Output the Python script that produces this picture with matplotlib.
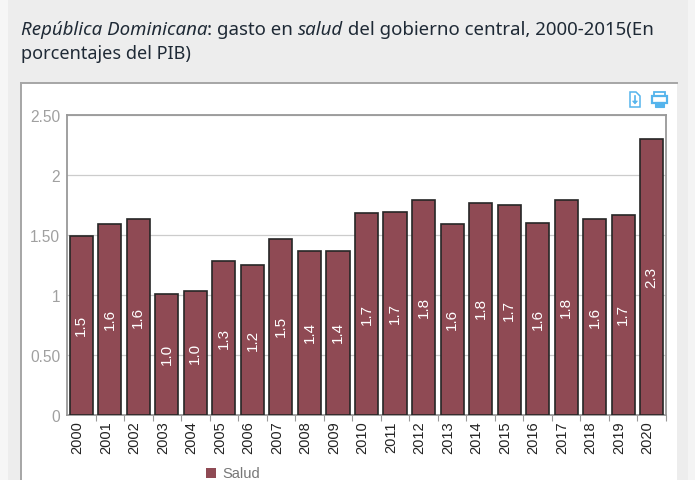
import matplotlib
matplotlib.use("Agg")
import matplotlib.pyplot as plt
from matplotlib.patches import Rectangle, Polygon
from matplotlib.transforms import ScaledTranslation

years = [str(y) for y in range(2000, 2021)]
values = [1.49, 1.59, 1.63, 1.01, 1.03, 1.28, 1.25, 1.47, 1.37, 1.37, 1.68,
          1.69, 1.79, 1.59, 1.77, 1.75, 1.60, 1.79, 1.63, 1.67, 2.30]
labels = ["1.5", "1.6", "1.6", "1.0", "1.0", "1.3", "1.2", "1.5", "1.4", "1.4", "1.7",
          "1.7", "1.8", "1.6", "1.8", "1.7", "1.6", "1.8", "1.6", "1.7", "2.3"]
y_ticks = [0, 0.5, 1, 1.5, 2, 2.5]
y_ticklabels = ["0", "0.50", "1", "1.50", "2", "2.50"]

W, H = 695, 481
bg = "#ededed"
bar_color = "#8f4a54"
grey = "#999999"
icon = "#55b4ec"

plt.rcParams["font.family"] = ["Liberation Sans", "DejaVu Sans"]

fig = plt.figure(figsize=(W / 100, H / 100), dpi=100, facecolor=bg)


def px(x, y):
    # pixel position from the top left to figure fraction
    return x / W, 1 - y / H


# page strips at the sides, white chart panel
fig.add_artist(Rectangle((0, 0), 8 / W, 1, transform=fig.transFigure, color="#f6f6f6", lw=0, zorder=-3))
fig.add_artist(Rectangle((688 / W, 0), 7 / W, 1, transform=fig.transFigure, color="#f4f4f4", lw=0, zorder=-3))
fig.add_artist(Rectangle((21 / W, 0), 656 / W, 1 - 84 / H, transform=fig.transFigure,
                         facecolor="white", edgecolor="none", zorder=-2))
fig.add_artist(plt.Line2D([21 / W, 21 / W], [0, 1 - 84 / H], color="#a6a6a6", lw=1.4, zorder=-1))
fig.add_artist(plt.Line2D([21 / W, 677 / W], [1 - 84 / H, 1 - 84 / H], color="#a6a6a6", lw=1.4, zorder=-1))

ax = fig.add_axes([67 / W, 1 - 416 / H, 599 / W, 300 / H], facecolor="white")
x = range(len(years))
bars = ax.bar(x, values, width=0.81, color=bar_color, edgecolor="#262626", linewidth=1.2, zorder=3)
ax.set_xlim(-0.5, 20.5)
ax.set_ylim(0, 2.5)
ax.set_yticks(y_ticks)
ax.set_yticklabels(y_ticklabels, color="#a0a0a0", fontsize=11.2)
ax.set_xticks([i - 0.5 for i in range(1, 22)], minor=False)
ax.set_xticklabels([])
ax.set_xticks(list(x), minor=True)
ax.set_xticklabels(years, minor=True, rotation=90, fontsize=10.5, color="#222222")
ax.tick_params(axis="x", which="minor", length=0, pad=4)
ax.tick_params(axis="x", which="major", length=4, color=grey)
ax.tick_params(axis="y", length=0, pad=5)
ax.grid(axis="y", color="#cccccc", lw=0.9, zorder=0)
for s in ax.spines.values():
    s.set_color(grey)
    s.set_linewidth(1.3)

# year labels sit a little left of the bar centres
shift = ScaledTranslation(-4 / 100, 0, fig.dpi_scale_trans)
for lab in ax.get_xticklabels(minor=True):
    lab.set_transform(lab.get_transform() + shift)

for i, (v, lab) in enumerate(zip(values, labels)):
    ax.annotate(lab, (i, v / 2), xytext=(0, 0.7), textcoords="offset points",
                rotation=90, ha="center", va="center", color="white", fontsize=11, zorder=4)

# legend
fig.add_artist(Rectangle(px(206, 479), 10 / W, 10 / H, transform=fig.transFigure,
                         facecolor=bar_color, edgecolor="none"))
fig.text(222 / W, 1 - 474 / H, "Salud", color="#777777", fontsize=10.5, va="center")

# title, mixed italic runs placed one after the other
renderer = fig.canvas.get_renderer()
title_runs = [("República Dominicana", "italic"), (": gasto en ", "normal"), ("salud", "italic"),
              (" del gobierno central, 2000-2015(En", "normal")]
tx = 21
for run, style in title_runs:
    t = fig.text(tx / W, 1 - 35 / H, run, fontsize=13.45, style=style, color="#1f2a36",
                 family="Noto Sans", va="baseline")
    tx = t.get_window_extent(renderer).x1
fig.text(21 / W, 1 - 59 / H, "porcentajes del PIB)", fontsize=13, color="#1f2a36",
         family="Noto Sans", va="baseline")

# export icon: no installed font has these glyphs, so they are drawn as shapes
doc = [px(630, 93), px(636, 93), px(640, 97), px(640, 108), px(630, 108)]
fig.add_artist(Polygon(doc, closed=True, transform=fig.transFigure, fc="white", ec=icon, lw=1.1))
fig.add_artist(plt.Line2D([635 / W, 635 / W], [1 - 97 / H, 1 - 103 / H], color=icon, lw=1.2))
fig.add_artist(Polygon([px(632.5, 102), px(637.5, 102), px(635, 105)], closed=True,
                       transform=fig.transFigure, fc=icon, ec=icon, lw=0.5))

# print icon
fig.add_artist(Rectangle(px(654, 98), 11 / W, 5 / H, transform=fig.transFigure, fc="white", ec=icon, lw=1.3))
fig.add_artist(Rectangle(px(652, 104), 15 / W, 7 / H, transform=fig.transFigure, fc="white", ec=icon, lw=1.6))
fig.add_artist(Rectangle(px(655, 108), 9 / W, 5 / H, transform=fig.transFigure, fc=icon, ec=icon, lw=0.8))

fig.savefig("out.png", dpi=100, facecolor=bg)
